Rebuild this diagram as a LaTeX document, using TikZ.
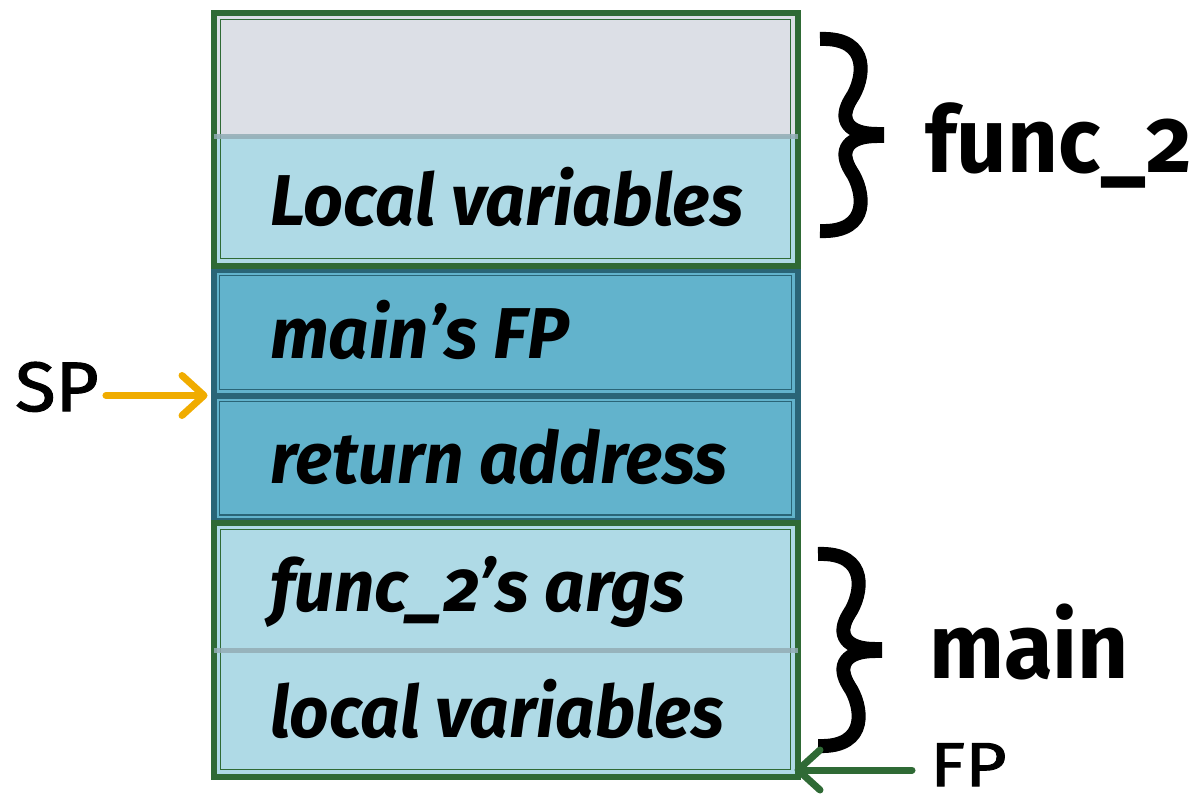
\documentclass[tikz,border=0pt]{standalone}
\usepackage{fontspec}
\setmainfont{Fira Sans}[Numbers=OldStyle]
\usetikzlibrary{arrows.meta}
\definecolor{greyfill}{HTML}{DCDFE6}
\definecolor{lightfill}{HTML}{AFDAE6}
\definecolor{midfill}{HTML}{62B3CC}
\definecolor{tealline}{HTML}{2A6577}
\definecolor{greenline}{HTML}{2F6A35}
\definecolor{sepline}{HTML}{93ADB5}
\definecolor{spcol}{HTML}{F0AC00}

\begin{document}
\begin{tikzpicture}[x=1pt,y=-1pt,
  framebox/.style={draw=greenline, line width=6pt, inner sep=0pt, outer sep=0pt, minimum width=584pt},
  tealbox/.style={draw=tealline, fill=midfill, line width=6pt, inner sep=0pt, outer sep=0pt, minimum width=584pt},
  thinline/.style={line width=1.8pt},
  sepstroke/.style={draw=sepline, line width=5pt, opacity=0.85},
  celltext/.style={anchor=base west, inner sep=0pt, font=\fontsize{72}{72}\selectfont\bfseries\itshape},
  framelabel/.style={anchor=base west, inner sep=0pt, font=\fontsize{92}{92}\selectfont\bfseries},
  ptrlabel/.style={anchor=base west, inner sep=0pt},
  ptrarrow/.style={line width=7pt, line cap=round, -{Straight Barb[length=22pt, width=40pt, round]}},
  pics/curlybrace/.style={code={
    \draw[line width=14pt, line cap=butt]
      (-28,-96) .. controls (24,-98) and (16,-55) .. (3,-36)
      .. controls (-10,-15) and (0,-1) .. (29,-1)
      -- (29,1)
      .. controls (0,1) and (-10,15) .. (3,36)
      .. controls (16,55) and (24,98) .. (-28,96);
  }}
]
\useasboundingbox (0,0) rectangle (1203,795);

% fills of the two frames
\fill[greyfill]  (216,15)  rectangle (795,136);
\fill[lightfill] (216,136) rectangle (795,263);
\fill[lightfill] (216,525) rectangle (795,774);

% saved registers of func_2
\node[tealbox, minimum height=126pt]   (mainfp)  at (505.5,332.5)  {};
\node[tealbox, minimum height=125.5pt] (retaddr) at (505.5,458.25) {};
\foreach \c in {mainfp,retaddr}
  \draw[tealline, thinline] ([xshift=6pt,yshift=-6pt]\c.north west) rectangle ([xshift=-6pt,yshift=6pt]\c.south east);

% frames of func_2 and main
\node[framebox, minimum height=253pt] (f2frame)   at (505.5,139)   {};
\node[framebox, minimum height=254pt] (mainframe) at (505.5,649.5) {};
\foreach \c in {f2frame,mainframe}
  \draw[greenline, thinline] ([xshift=7pt,yshift=-7pt]\c.north west) rectangle ([xshift=-7pt,yshift=7pt]\c.south east);

% separators inside the frames
\draw[sepstroke] (f2frame.west |- 0,136) -- (f2frame.east |- 0,136);
\draw[sepstroke] (mainframe.west |- 0,650) -- (mainframe.east |- 0,650);

% cell texts
\node[celltext] (t1) at (270,225) {\scalebox{0.97}[1]{Local variables}};
\node[celltext] (t2) at (270,358) {\scalebox{0.98}[1]{main’s FP}};
\node[celltext] (t3) at (270,483) {\scalebox{0.962}[1]{return address}};
\node[celltext] (t4) at (270,611) {\scalebox{0.983}[1]{func\_2’s args}};
\node[celltext] (t5) at (270,737) {\scalebox{0.96}[1]{local variables}};

% braces and frame names
\pic at (848,135) {curlybrace};
\pic at (846,650) {curlybrace};
\node[framelabel] (f2name)   at (925,172) {\scalebox{0.96}[1]{func\_2}};
\node[framelabel] (mainname) at (929,678) {\scalebox{0.965}[1]{main}};

% stack and frame pointers
\node[ptrlabel, font=\fontsize{70}{70}\selectfont\addfontfeature{FakeBold=1.6}] (sp) at (15,411) {\scalebox{1.06}[1]{SP}};
\node[ptrlabel, font=\fontsize{62}{62}\selectfont\addfontfeature{FakeBold=1.6}] (fp) at (930,786) {\scalebox{1.15}[1]{FP}};
\draw[ptrarrow, spcol, shorten <=7pt, shorten >=6pt] (sp.east |- retaddr.north west) -- (retaddr.north west);
\draw[ptrarrow, greenline, shorten <=18pt, shorten >=-3pt] (fp.west |- 0,770) -- (mainframe.east |- 0,770);
\end{tikzpicture}
\end{document}
